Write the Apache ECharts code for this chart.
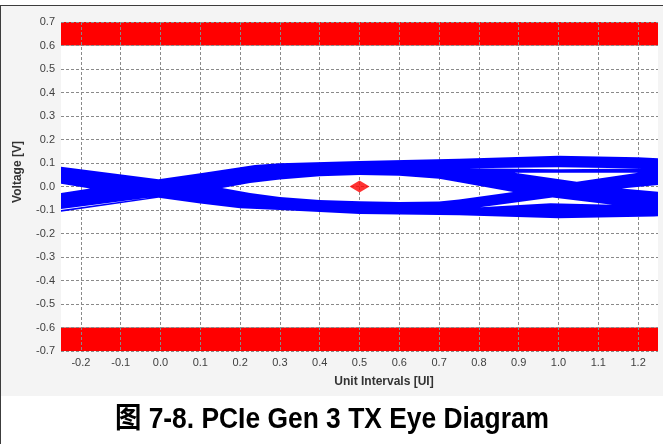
<!DOCTYPE html>
<html><head><meta charset="utf-8">
<script src="https://cdn.jsdelivr.net/npm/echarts@6/dist/echarts.min.js"></script>
<style>
html,body{margin:0;padding:0;background:#fff;}
#frame{position:relative;width:663px;height:444px;overflow:hidden;background:#fff;}
#panel{position:absolute;left:1px;top:5px;width:662px;height:391px;background:#f4f4f4;border-top:1px solid #3c3c3c;box-sizing:border-box;}
#leftline{position:absolute;left:0px;top:5px;width:1px;height:439px;background:#3c3c3c;}
#chart{position:absolute;left:0;top:0;width:663px;height:444px;}
</style></head>
<body><div id="frame"><div id="panel"></div><div id="leftline"></div><div id="chart"></div></div>
<script>
// ---- data ----
const xRange = [-0.25, 1.25];          // Unit Intervals [UI]
const yRange = [-0.7, 0.7];            // Voltage [V]
const maskBands = [[0.6, 0.7], [-0.7, -0.6]];   // red mask regions (V from, V to)
const eyeCenter = [[0.5, 0.0]];        // red diamond marker

// outer envelope of the blue traces (UI, V)
const envelopeTop = [[-0.26, 0.086], [-0.25, 0.084], [-0.005, 0.031], [0.1, 0.056], [0.2, 0.082], [0.237, 0.091],
  [0.3, 0.099], [0.5, 0.108], [0.75, 0.118], [1.0, 0.131], [1.2, 0.124], [1.26, 0.12]];
const envelopeBottom = [[1.26, -0.126], [1.24, -0.128], [1.0, -0.135], [0.75, -0.122], [0.5, -0.117], [0.3, -0.1],
  [0.2, -0.093], [0.1, -0.072], [-0.005, -0.048], [-0.25, -0.107], [-0.26, -0.109]];

// openings inside the envelope (UI, V)
const holeLeftNotch = [[-0.26, 0.015], [-0.177, -0.009], [-0.26, -0.030]];
const holeMainEye = [[0.155, -0.006], [0.225, 0.015], [0.3, 0.03], [0.4, 0.044], [0.5, 0.049], [0.6, 0.046],
  [0.7, 0.033], [0.75, 0.018], [0.886, -0.023], [0.75, -0.055], [0.7, -0.064], [0.6, -0.066], [0.5, -0.063],
  [0.4, -0.057], [0.3, -0.045], [0.225, -0.028]];
const holeUpperTriangle = [[0.889, 0.058], [1.2, 0.059], [1.046, 0.020]];
const holeUpperSliver = [[0.773, 0.078], [1.0, 0.082], [1.21, 0.077], [1.0, 0.073]];
const holeLowerSliver = [[0.803, -0.088], [0.985, -0.047], [1.135, -0.078], [0.98, -0.071]];
const holeRightNotch = [[1.26, 0.008], [1.159, -0.008], [1.26, -0.024]];
const holeLowerLeftLine = [[-0.26, -0.098], [-0.02, -0.046], [-0.26, -0.102]];

const holes = [holeLeftNotch, holeMainEye, holeUpperTriangle, holeUpperSliver, holeLowerSliver, holeRightNotch, holeLowerLeftLine];

const chart = echarts.init(document.getElementById('chart'), null, {renderer: 'canvas'});
const FONT = '"Liberation Sans", Arial, "Noto Sans CJK SC", sans-serif';

function signedArea(pts) {
  let a = 0;
  for (let i = 0; i < pts.length; i++) {
    const p = pts[i], q = pts[(i + 1) % pts.length];
    a += p[0] * q[1] - q[0] * p[1];
  }
  return a;
}
function toPath(pts) {
  return 'M' + pts.map(p => p[0].toFixed(2) + ' ' + p[1].toFixed(2)).join(' L') + ' Z';
}

const grid = {left: 61, right: 5, top: 22, bottom: 93, show: true, backgroundColor: '#ffffff', borderWidth: 0};
const splitLine = {show: true, lineStyle: {color: '#8a8a8a', type: [3, 2], width: 1}};
const fmt = v => (Math.abs(v) < 1e-9 ? 0 : v).toFixed(1);

chart.setOption({
  animation: false,
  backgroundColor: 'transparent',
  grid: grid,
  xAxis: {
    type: 'value', min: xRange[0], max: xRange[1], splitNumber: 15, z: 3,
    axisLine: {show: false}, axisTick: {show: false},
    axisLabel: {showMinLabel: false, showMaxLabel: false, formatter: fmt, margin: 6, fontSize: 11, color: '#404040', fontFamily: FONT},
    splitLine: Object.assign({showMinLine: false, showMaxLine: false}, splitLine)
  },
  yAxis: {
    type: 'value', min: yRange[0], max: yRange[1], interval: 0.1, z: 3,
    axisLine: {show: false}, axisTick: {show: false},
    axisLabel: {formatter: fmt, margin: 6, fontSize: 11, color: '#404040', fontFamily: FONT},
    splitLine: splitLine
  },
  series: [
    {
      type: 'custom', name: 'mask', z: 1, clip: true,
      encode: {x: -1, y: [0, 1]},
      data: maskBands,
      renderItem: function (params, api) {
        const p0 = api.coord([xRange[0], api.value(1)]);
        const p1 = api.coord([xRange[1], api.value(0)]);
        return {type: 'rect', shape: {x: p0[0], y: p0[1], width: p1[0] - p0[0], height: p1[1] - p0[1]},
          style: {fill: '#ff0000'}};
      }
    },
    {
      type: 'custom', name: 'eye', z: 5, clip: true,
      encode: {x: 0, y: 1},
      data: [[0.5, 0]],
      renderItem: function (params, api) {
        const outer = envelopeTop.concat(envelopeBottom).map(p => api.coord(p));
        const sOuter = Math.sign(signedArea(outer));
        let d = toPath(outer);
        holes.forEach(h => {
          let px = h.map(p => api.coord(p));
          if (Math.sign(signedArea(px)) === sOuter) px = px.slice().reverse();
          d += ' ' + toPath(px);
        });
        return {type: 'path', shape: {pathData: d}, style: {fill: '#0000ff', stroke: null}};
      }
    },
    {
      type: 'scatter', name: 'center', z: 6,
      data: eyeCenter, symbol: 'diamond', symbolSize: [20, 12],
      itemStyle: {color: '#ff0000'}
    }
  ],
  graphic: [
    {type: 'text', x: 18, y: 172, rotation: Math.PI / 2,
      style: {text: 'Voltage [V]', fontSize: 12, fontWeight: 'bold', fontFamily: FONT, fill: '#333333', align: 'center', verticalAlign: 'middle'}},
    {type: 'text', x: 384, y: 382,
      style: {text: 'Unit Intervals [UI]', fontSize: 12, fontWeight: 'bold', fontFamily: FONT, fill: '#333333', align: 'center', verticalAlign: 'middle'}},
    {type: 'text', x: 332, y: 420, scaleX: 0.91,
      style: {text: '图 7-8. PCIe Gen 3 TX Eye Diagram', fontSize: 29, fontWeight: 'bold', fontFamily: FONT, fill: '#000000', align: 'center', verticalAlign: 'middle'}}
  ]
});
</script>
</body></html>
